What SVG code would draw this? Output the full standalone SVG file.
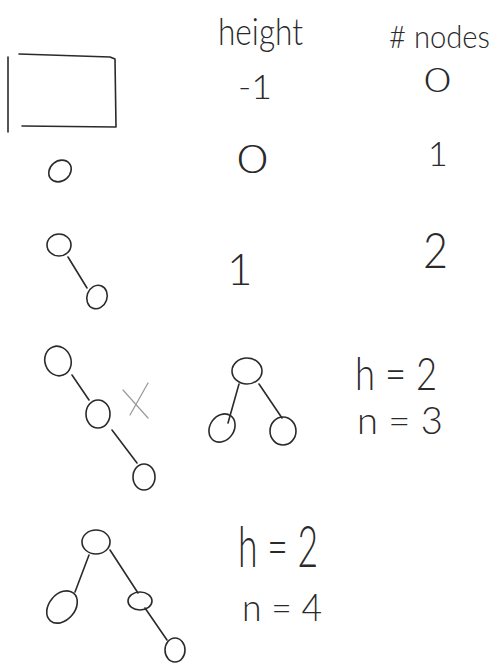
<svg xmlns="http://www.w3.org/2000/svg" width="499" height="664" viewBox="0 0 499 664">
<style>
.ink{fill:none;stroke:#2a2a2a;stroke-width:1.6;stroke-linecap:round;stroke-linejoin:round}
.nd{fill:none;stroke:#2a2a2a;stroke-width:1.6}
.t{font-family:Lato,"Open Sans","Liberation Sans",sans-serif;font-weight:300;fill:#2a2a2a}
.x{stroke:#9a9a9a;stroke-width:1.2;stroke-linecap:round}
</style>
<rect width="499" height="664" fill="#fff"/>
<g id="headers">
<text class="t" x="218" y="45" font-size="38" textLength="85" lengthAdjust="spacingAndGlyphs">height</text>
<text class="t" x="389" y="48" font-size="31" textLength="101" lengthAdjust="spacingAndGlyphs"># nodes</text>
</g>
<g id="empty-tree">
<path class="ink" d="M8,57 L8,132"/>
<path class="ink" d="M19,54 L110,57 L115,59 L116,127 L22,126"/>
</g>
<g id="row-labels">
<text class="t" x="238" y="99" font-size="34" textLength="34" lengthAdjust="spacingAndGlyphs">-1</text>
<text class="t" x="424" y="92" font-size="33" textLength="27" lengthAdjust="spacingAndGlyphs">0</text>
<text class="t" x="237" y="173" font-size="39" textLength="31" lengthAdjust="spacingAndGlyphs">0</text>
<text class="t" x="428" y="166" font-size="34">1</text>
<text class="t" x="227" y="285" font-size="44">1</text>
<text class="t" x="423" y="268" font-size="50" textLength="25" lengthAdjust="spacingAndGlyphs">2</text>
<text class="t" x="355" y="390" font-size="46" textLength="82" lengthAdjust="spacingAndGlyphs">h = 2</text>
<text class="t" x="357" y="434" font-size="38" textLength="86" lengthAdjust="spacingAndGlyphs">n = 3</text>
<text class="t" x="238" y="567" font-size="58" textLength="80" lengthAdjust="spacingAndGlyphs">h = 2</text>
<text class="t" x="242" y="621" font-size="38" textLength="80" lengthAdjust="spacingAndGlyphs">n = 4</text>
</g>
<g id="connectors">
<path class="ink" d="M68,257 L87,288"/>
<path class="ink" d="M72,375 L89,400"/>
<path class="ink" d="M112,430 L137,463"/>
<path class="ink" d="M239,384 L228,423"/>
<path class="ink" d="M259,384 L282,418"/>
<path class="ink" d="M89,555 L75,592"/>
<path class="ink" d="M110,550 L138,593"/>
<path class="ink" d="M145,608 L167,640"/>
</g>
<g id="node-single"><ellipse class="nd" cx="60" cy="171" rx="12" ry="10" transform="rotate(-40 60 171)"/></g>
<g id="node-t1-a"><ellipse class="nd" cx="59" cy="245" rx="12" ry="11"/></g>
<g id="node-t1-b"><ellipse class="nd" cx="97" cy="297" rx="10" ry="12" transform="rotate(20 97 297)"/></g>
<g id="node-c-a"><ellipse class="nd" cx="58" cy="361" rx="13" ry="15" transform="rotate(-20 58 361)"/></g>
<g id="node-c-b"><ellipse class="nd" cx="98" cy="414" rx="12" ry="14"/></g>
<g id="node-c-c"><ellipse class="nd" cx="144" cy="477" rx="11" ry="13"/></g>
<g id="x-mark">
<line class="x" x1="123" y1="390" x2="148" y2="418"/>
<line class="x" x1="148" y1="383" x2="130" y2="415"/>
</g>
<g id="node-p-root"><ellipse class="nd" cx="247" cy="371" rx="15" ry="13"/></g>
<g id="node-p-left"><ellipse class="nd" cx="222" cy="428" rx="12" ry="15" transform="rotate(35 222 428)"/></g>
<g id="node-p-right"><ellipse class="nd" cx="283" cy="431" rx="13" ry="14"/></g>
<g id="node-q-root"><ellipse class="nd" cx="96" cy="542" rx="14" ry="12"/></g>
<g id="node-q-left"><ellipse class="nd" cx="62" cy="607" rx="13" ry="18" transform="rotate(40 62 607)"/></g>
<g id="node-q-right"><ellipse class="nd" cx="140" cy="601" rx="12" ry="9"/></g>
<g id="node-q-leaf"><ellipse class="nd" cx="175" cy="650" rx="10" ry="12"/></g>
</svg>
